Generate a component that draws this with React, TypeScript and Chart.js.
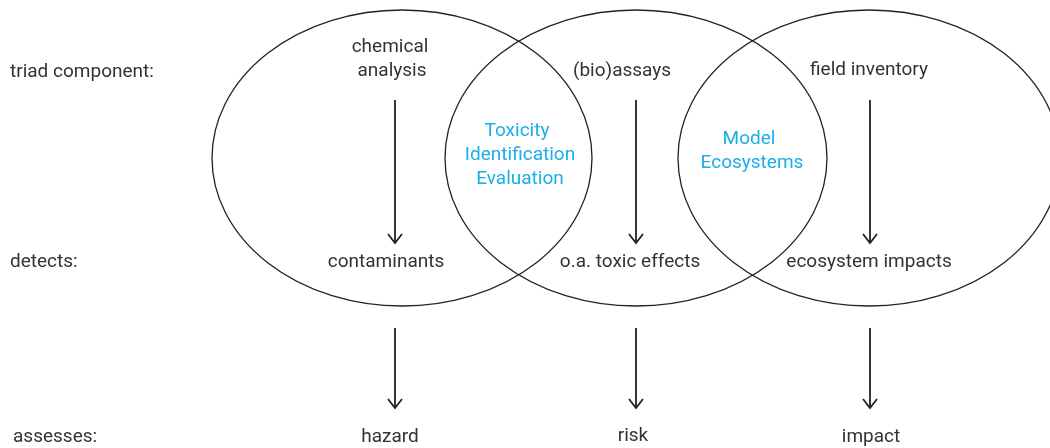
import { useEffect, useRef } from "react";
import { Chart, registerables } from "chart.js";

Chart.register(...registerables);

// Diagram coordinates (x: 0..1050, y: 0..448 top-down)
const ellipseCenterX = [402, 636, 869];
const ellipseCenterY = [158, 158, 158];
const ellipseRadiusX = [190, 191, 191];
const ellipseRadiusY = [148, 148, 148];

const arrowX = [395, 636, 870, 395, 636, 870];
const arrowStartY = [100, 100, 100, 328, 328, 328];
const arrowEndY = [243, 243, 243, 408, 408, 408];

const rowLabels = ["triad component:", "detects:", "assesses:"];
const rowLabelX = [10, 10, 13];
const rowLabelY = [72, 262, 437];

const nodeLabels = [
  "chemical",
  "analysis",
  "(bio)assays",
  "field inventory",
  "contaminants",
  "o.a. toxic effects",
  "ecosystem impacts",
  "hazard",
  "risk",
  "impact",
];
const nodeX = [390, 392, 622, 869, 386, 630, 869, 390, 633, 871];
const nodeY = [47, 71, 71, 70, 262, 262, 262, 437, 436, 437];

const overlapLabels = ["Toxicity", "Identification", "Evaluation", "Model", "Ecosystems"];
const overlapX = [517, 520, 520, 749, 752];
const overlapY = [131, 155, 179, 139, 163];

const FONT = '19px Roboto, "Noto Sans", sans-serif';
const TEXT_COLOR = "#333333";
const LINE_COLOR = "#222222";
const BLUE = "#1aaeea";

const diagramPlugin = {
  id: "diagram",
  beforeDatasetsDraw(chart: any) {
    const { ctx, scales } = chart;
    const xs = scales.x;
    const ys = scales.y;
    ctx.save();
    ctx.strokeStyle = LINE_COLOR;
    ctx.lineWidth = 1.3;
    for (let i = 0; i < ellipseCenterX.length; i++) {
      const cx = xs.getPixelForValue(ellipseCenterX[i]);
      const cy = ys.getPixelForValue(ellipseCenterY[i]);
      const rx = Math.abs(xs.getPixelForValue(ellipseCenterX[i] + ellipseRadiusX[i]) - cx);
      const ry = Math.abs(ys.getPixelForValue(ellipseCenterY[i] + ellipseRadiusY[i]) - cy);
      ctx.beginPath();
      ctx.ellipse(cx, cy, rx, ry, 0, 0, Math.PI * 2);
      ctx.stroke();
    }
    ctx.restore();
  },
  afterDatasetsDraw(chart: any) {
    const { ctx, scales } = chart;
    const xs = scales.x;
    const ys = scales.y;
    ctx.save();
    // arrowheads
    ctx.strokeStyle = LINE_COLOR;
    ctx.lineWidth = 1.8;
    chart.data.datasets.forEach((_: any, i: number) => {
      const meta = chart.getDatasetMeta(i);
      const pts = meta.data;
      if (!pts || pts.length < 2) return;
      const end = pts[pts.length - 1];
      const px = end.x;
      const py = end.y;
      ctx.beginPath();
      ctx.moveTo(px - 7, py - 9);
      ctx.lineTo(px, py);
      ctx.lineTo(px + 7, py - 9);
      ctx.stroke();
    });
    // text
    ctx.font = FONT;
    ctx.textBaseline = "middle";
    ctx.fillStyle = TEXT_COLOR;
    ctx.textAlign = "left";
    rowLabels.forEach((t, i) => {
      ctx.fillText(t, xs.getPixelForValue(rowLabelX[i]), ys.getPixelForValue(rowLabelY[i]));
    });
    ctx.textAlign = "center";
    nodeLabels.forEach((t, i) => {
      ctx.fillText(t, xs.getPixelForValue(nodeX[i]), ys.getPixelForValue(nodeY[i]));
    });
    ctx.fillStyle = BLUE;
    overlapLabels.forEach((t, i) => {
      ctx.fillText(t, xs.getPixelForValue(overlapX[i]), ys.getPixelForValue(overlapY[i]));
    });
    ctx.restore();
  },
};

export default function App() {
  const ref = useRef<HTMLCanvasElement | null>(null);
  useEffect(() => {
    document.body.style.margin = "0";
    if (!ref.current) return;
    const datasets = arrowX.map((x, i) => ({
      label: "arrow" + i,
      data: [
        { x, y: arrowStartY[i] },
        { x, y: arrowEndY[i] },
      ],
      showLine: true,
      borderColor: LINE_COLOR,
      borderWidth: 1.8,
      pointRadius: 0,
      pointHoverRadius: 0,
      fill: false,
    }));
    const chart = new Chart(ref.current, {
      type: "scatter",
      data: { datasets },
      options: {
        animation: false,
        responsive: false,
        devicePixelRatio: 1,
        layout: { padding: 0 },
        plugins: {
          legend: { display: false },
          tooltip: { enabled: false },
          title: { display: false },
        },
        scales: {
          x: { type: "linear", min: 0, max: 1050, display: false },
          y: { type: "linear", min: 0, max: 448, reverse: true, display: false },
        },
      },
      plugins: [diagramPlugin],
    });
    return () => chart.destroy();
  }, []);
  return (
    <div style={{ width: 1050, height: 448, background: "#ffffff" }}>
      <canvas ref={ref} width={1050} height={448} />
    </div>
  );
}
